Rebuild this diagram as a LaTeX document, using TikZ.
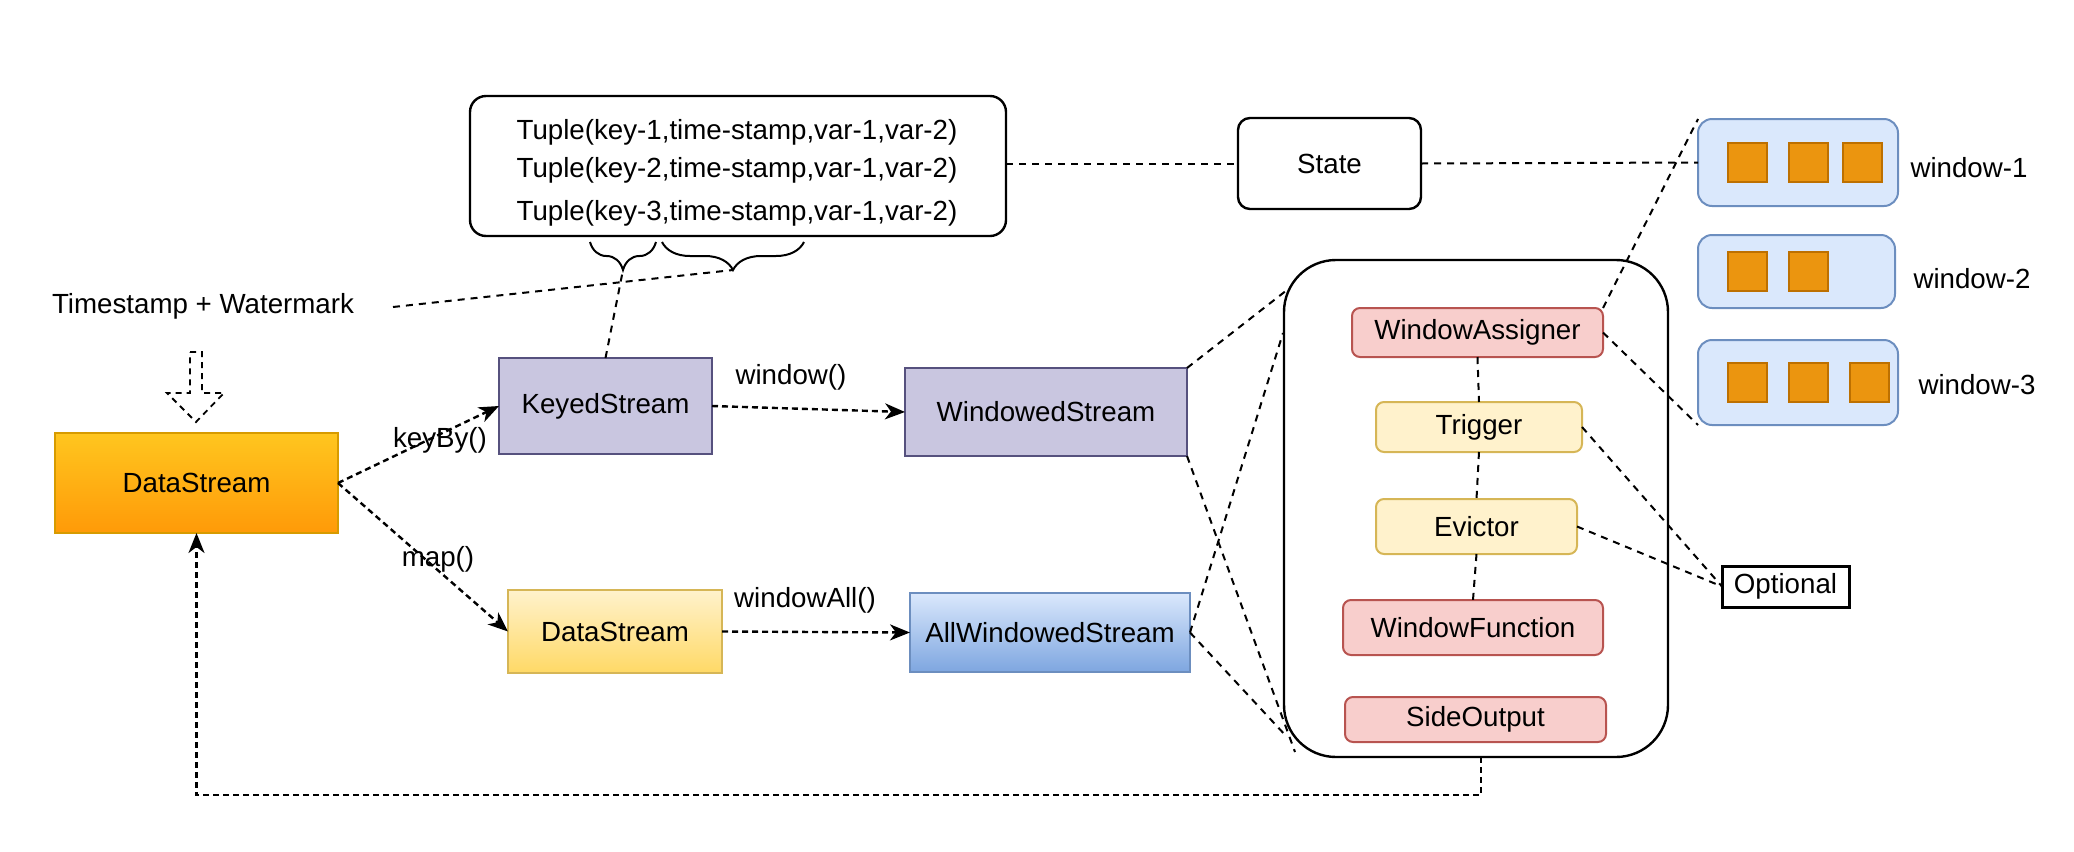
\documentclass[tikz,border=0pt]{standalone}
\usepackage{fontspec}
\setmainfont{Liberation Sans}
\usetikzlibrary{fit,arrows.meta,decorations.pathreplacing,calc}
\definecolor{dsStroke}{HTML}{D79B00}
\definecolor{dsTop}{HTML}{FFC61F}
\definecolor{dsBot}{HTML}{FF9A08}
\definecolor{purpleFill}{HTML}{C9C6E0}
\definecolor{purpleStroke}{HTML}{56517E}
\definecolor{yTop}{HTML}{FFF2CC}
\definecolor{yBot}{HTML}{FFD966}
\definecolor{yStroke}{HTML}{D6B656}
\definecolor{bTop}{HTML}{DAE8FC}
\definecolor{bBot}{HTML}{7EA6E0}
\definecolor{bStroke}{HTML}{6C8EBF}
\definecolor{rFill}{HTML}{F8CECC}
\definecolor{rStroke}{HTML}{B85450}
\definecolor{sqFill}{HTML}{EB950F}
\definecolor{sqStroke}{HTML}{BD7000}
\tikzset{
  base/.style={inner sep=0pt, outer sep=0pt, line width=1pt, draw},
  purplebox/.style={base, fill=purpleFill, draw=purpleStroke, fit={#1}},
  orangebox/.style={base, draw=dsStroke, top color=dsTop, bottom color=dsBot, fit={#1}},
  yellowgrad/.style={base, draw=yStroke, top color=yTop, bottom color=yBot, fit={#1}},
  bluegrad/.style={base, draw=bStroke, top color=bTop, bottom color=bBot, fit={#1}},
  redbox/.style={base, rounded corners=4pt, fill=rFill, draw=rStroke, fit={#1}},
  yellowbox/.style={base, rounded corners=4pt, fill=yTop, draw=yStroke, fit={#1}},
  winbox/.style={base, rounded corners=7pt, fill=bTop, draw=bStroke, fit={#1}},
  sq/.style={base, fill=sqFill, draw=sqStroke, fit={#1}},
  roundbox/.style={base, line width=1.2pt, fit={#1}},
  txt/.style={label={[inner sep=0pt, rounded corners=0pt]center:#1}},
  link/.style={line width=1pt, dash pattern=on 3.5pt off 3pt},
  flow/.style={line width=1.2pt, dash pattern=on 3pt off 2pt, -{Stealth[length=10pt,width=8pt,inset=3pt]}},
  lbl/.style={inner sep=0pt}
}
\begin{document}
\begin{tikzpicture}[x=0.5pt,y=-0.5pt, font=\fontsize{13.85}{16}\selectfont]
\useasboundingbox (0,0) rectangle (2074,852);

% Tuple box
\node[roundbox={(470,96)(1006,236)}, rounded corners=8pt] (tuple) {};
\node[lbl] (t1) at (737,132) {Tuple(key-1,time-stamp,var-1,var-2)};
\node[lbl] (t2) at (737,170) {Tuple(key-2,time-stamp,var-1,var-2)};
\node[lbl] (t3) at (737,213) {Tuple(key-3,time-stamp,var-1,var-2)};

% braces
\draw[line width=1pt, decorate, decoration={brace, mirror, amplitude=14pt}] (590,242) -- (656,242);
\draw[line width=1pt, decorate, decoration={brace, mirror, amplitude=14pt}] (662,242) -- (804,242);
\coordinate (b1tip) at (623,270);
\coordinate (b2tip) at (733,270);

% State
\node[roundbox={(1238,118)(1421,209)}, rounded corners=6pt, txt=State] (state) {};

% windows
\node[winbox={(1698,119)(1898,206)}] (w1) {};
\node[winbox={(1698,235)(1895,308)}] (w2) {};
\node[winbox={(1698,340)(1898,425)}] (w3) {};
\node[sq={(1728,143)(1767,182)}] (s11) {};
\node[sq={(1789,143)(1828,182)}] (s12) {};
\node[sq={(1843,143)(1882,182)}] (s13) {};
\node[sq={(1728,252)(1767,291)}] (s21) {};
\node[sq={(1789,252)(1828,291)}] (s22) {};
\node[sq={(1728,363)(1767,402)}] (s31) {};
\node[sq={(1789,363)(1828,402)}] (s32) {};
\node[sq={(1850,363)(1889,402)}] (s33) {};
\node[lbl] (wl1) at (1969,168) {window-1};
\node[lbl] (wl2) at (1972,279) {window-2};
\node[lbl] (wl3) at (1977,385) {window-3};

% Timestamp
\node[lbl] (ts) at (203,306) {Timestamp + Watermark};
\coordinate (tsl) at (393,307);

% streams
\node[orangebox={(55,433)(338,533)}, txt=DataStream] (ds1) {};
\node[purplebox={(499,358)(712,454)}, txt=KeyedStream] (ks) {};
\node[purplebox={(905,368)(1187,456)}, txt=WindowedStream] (ws) {};
\node[yellowgrad={(508,590)(722,673)}, txt=DataStream] (ds2) {};
\node[bluegrad={(910,593)(1190,672)}, txt=AllWindowedStream] (aws) {};

\node[lbl] (lkey) at (440,440) {keyBy()};
\node[lbl] (lmap) at (438,559) {map()};
\node[lbl] (lwin) at (791,377) {window()};
\node[lbl] (lwinall) at (805,600) {windowAll()};

% big box
\node[roundbox={(1284,260)(1668,757)}, rounded corners=26pt] (big) {};
\node[redbox={(1352,308)(1603,357)}, txt=WindowAssigner] (wa) {};
\node[yellowbox={(1376,402)(1582,452)}, txt=Trigger] (trig) {};
\node[yellowbox={(1376,499)(1577,554)}, txt=Evictor] (ev) {};
\node[redbox={(1343,600)(1603,655)}, txt=WindowFunction] (wf) {};
\node[redbox={(1345,697)(1606,742)}, txt=SideOutput] (so) {};
\node[base, line width=1.5pt, fit={(1722,566)(1849,607)}, txt=Optional] (opt) {};

\coordinate (bg1) at (1287,290);
\coordinate (bg2) at (1283,333);
\coordinate (bg3) at (1295,752);
\coordinate (bg4) at (1287,737);

% hollow dashed arrow
\draw[line width=0.9pt, dash pattern=on 3pt off 2.5pt] (190,352) -- (202,352) -- (202,393) -- (224,393) -- (196,422) -- (167,393) -- (190,393) -- cycle;

% links
\draw[link] (tsl) -- (b2tip);
\draw[link] (ks.north) -- (b1tip);
\draw[link] (tuple.east |- state.west) -- (state.west);
\draw[link] (state.east) -- (w1.west);
\draw[link] (ws.north east) -- (bg1);
\draw[link] (aws.east) -- (bg2);
\draw[link] (ws.south east) -- (bg3);
\draw[link] (aws.east) -- (bg4);
\draw[link] (wa.north east) -- (w1.north west);
\draw[link] (wa.east) -- (w3.south west);
\draw[link] (trig.east) -- (opt.west);
\draw[link] (ev.east) -- (opt.west);
\draw[link] (wa.south) -- (trig.north);
\draw[link] (trig.south) -- (ev.north);
\draw[link] (ev.south) -- (wf.north);

% flows
\draw[flow] (ds1.east) -- (ks.west);
\draw[flow] (ds1.east) -- (ds2.west);
\draw[flow] (ks.east) -- (ws.west);
\draw[flow] (ds2.east) -- (aws.west);
\draw[flow] ([xshift=2.5pt]big.south) -- ++(0,38) -| (ds1.south);
\end{tikzpicture}
\end{document}
